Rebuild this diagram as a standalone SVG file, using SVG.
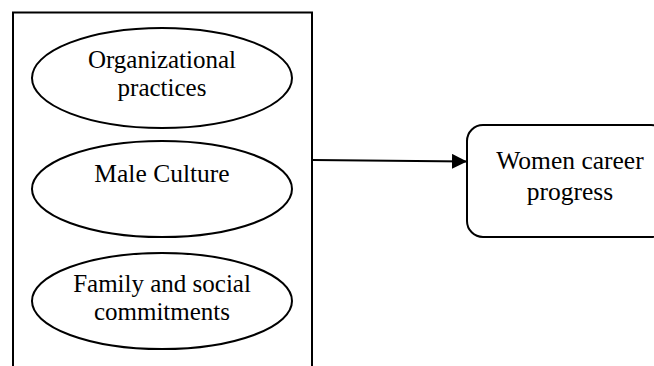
<svg xmlns="http://www.w3.org/2000/svg" width="654" height="366" viewBox="0 0 654 366">
  <style>
    .shape { fill: #ffffff; stroke: #000000; stroke-width: 2; }
    .label { font-family: "Liberation Serif", "Times New Roman", serif; font-size: 25.5px; fill: #000000; text-anchor: middle; }
    .tight { font-size: 25px; }
    .wire { stroke: #000000; stroke-width: 2; fill: none; }
  </style>
  <defs>
    <marker id="arrowhead" markerUnits="userSpaceOnUse" markerWidth="16" markerHeight="16" refX="15" refY="7.5" orient="auto">
      <path d="M0,0 L15,7.5 L0,15 Z" fill="#000000"/>
    </marker>
  </defs>
  <rect width="654" height="366" fill="#ffffff"/>

  <!-- container holding the three factors, open at the bottom -->
  <g id="factors">
    <path class="shape" d="M13,370 L13,12.5 L312,12.5 L312,370"/>
  </g>

  <g id="organizational-practices">
    <ellipse class="shape" cx="162" cy="78" rx="130" ry="50"/>
    <text class="label tight" x="162" y="68">Organizational</text>
    <text class="label tight" x="162" y="96">practices</text>
  </g>

  <g id="male-culture">
    <ellipse class="shape" cx="162" cy="189" rx="130" ry="48"/>
    <text class="label" x="162" y="182">Male Culture</text>
  </g>

  <g id="family-social">
    <ellipse class="shape" cx="162" cy="301" rx="130" ry="48"/>
    <text class="label tight" x="162" y="292">Family and social</text>
    <text class="label tight" x="162" y="320">commitments</text>
  </g>

  <g id="women-career-progress">
    <rect class="shape" x="467" y="125" width="200" height="112" rx="16" ry="16"/>
    <text class="label" x="570" y="169">Women career</text>
    <text class="label" x="570" y="200">progress</text>
  </g>

  <g id="connectors">
    <line class="wire" x1="313" y1="160" x2="467" y2="161.5" marker-end="url(#arrowhead)"/>
  </g>
</svg>
